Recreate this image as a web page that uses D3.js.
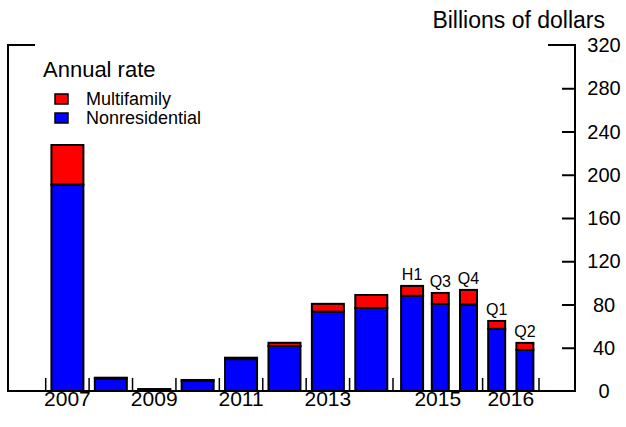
<!DOCTYPE html>
<html>
<head>
<meta charset="utf-8">
<script src="https://cdn.jsdelivr.net/npm/d3@7"></script>
<style>
  html, body { margin: 0; padding: 0; background: #fff; }
  svg { display: block; font-family: "Liberation Sans", Arial, Helvetica, sans-serif; }
</style>
</head>
<body>
<svg id="chart" width="626" height="427"></svg>
<script>
// ---- Data ----
const annualCategories = ["2007", "2008", "2009", "2010", "2011", "2012", "2013", "2014"];
const subCategories = ["2015 H1", "2015 Q3", "2015 Q4", "2016 Q1", "2016 Q2"];
const subLabels = ["H1", "Q3", "Q4", "Q1", "Q2"];
const nonresidential = [191, 11.5, 1.2, 9.5, 29.5, 41.6, 73.4, 76.8, 88, 80.5, 80, 57.5, 38];
const multifamily = [36.5, 0.8, 0.6, 0.7, 1.3, 3.0, 7.2, 12, 9.2, 10.2, 13.5, 7.3, 6.5];
const yTicks = [0, 40, 80, 120, 160, 200, 240, 280, 320];
const yearLabels = ["2007", "2009", "2011", "2013", "2015", "2016"];
const seriesNames = ["Multifamily", "Nonresidential"];
const seriesColors = ["#ff0000", "#0000ff"];

(function () {
// ---- Layout ----
const svg = d3.select("#chart");
const pLeft = 8, pRight = 575, pTop = 45, pBottom = 391;

const y = d3.scaleLinear().domain([0, 320]).range([pBottom, pTop]);
const xAnnual = d3.scaleBand().domain(annualCategories).range([45.7, 393]);
const xSub = d3.scaleBand().domain(subCategories).range([398, 539]);

const categories = annualCategories.concat(subCategories);
const rows = categories.map((c, i) => {
  const isAnnual = i < annualCategories.length;
  const sc = isAnnual ? xAnnual : xSub;
  const center = sc(c) + sc.bandwidth() / 2;
  const w = isAnnual ? 32 : (c === "2015 H1" ? 22 : 17);
  return {
    cat: c, center, w,
    nonres: nonresidential[i],
    multi: multifamily[i],
    label: isAnnual ? null : subLabels[i - annualCategories.length]
  };
});

// ---- Bars ----
const g = svg.append("g");
rows.forEach(r => {
  g.append("rect")
    .attr("x", r.center - r.w / 2).attr("width", r.w)
    .attr("y", y(r.nonres)).attr("height", y(0) - y(r.nonres))
    .attr("fill", seriesColors[1]).attr("stroke", "#000").attr("stroke-width", 2);
  g.append("rect")
    .attr("x", r.center - r.w / 2).attr("width", r.w)
    .attr("y", y(r.nonres + r.multi)).attr("height", y(r.nonres) - y(r.nonres + r.multi))
    .attr("fill", seriesColors[0]).attr("stroke", "#000").attr("stroke-width", 2);
  if (r.label) {
    g.append("text")
      .attr("x", r.center).attr("y", y(r.nonres + r.multi) - 6)
      .attr("text-anchor", "middle").attr("font-size", 16).attr("fill", "#000")
      .text(r.label);
  }
});

// ---- Frame ----
const frame = svg.append("g").attr("stroke", "#000").attr("stroke-width", 2).attr("fill", "none");
frame.append("path").attr("d", `M${pLeft},${pTop}H35`);
frame.append("path").attr("d", `M548,${pTop}H${pRight}`);
frame.append("path").attr("d", `M${pLeft},${pTop - 1}V${pBottom}`);
frame.append("path").attr("d", `M${pRight},${pTop - 1}V${pBottom}`);
frame.append("path").attr("d", `M${pLeft - 1},${pBottom}H${pRight + 1}`);

// ---- Right axis ----
const yAxis = d3.axisRight(y).tickValues(yTicks.filter(v => v > 0 && v < 320))
  .tickSizeInner(-13).tickSizeOuter(0).tickFormat("");
const ya = svg.append("g").attr("transform", `translate(${pRight},0)`).call(yAxis);
ya.select(".domain").remove();
ya.selectAll("line").attr("stroke", "#000").attr("stroke-width", 2);
svg.append("g").selectAll("text").data(yTicks).join("text")
  .attr("x", 604).attr("y", d => y(d)).attr("dy", "0.35em")
  .attr("text-anchor", "middle").attr("font-size", 20).attr("fill", "#000")
  .text(d => d);

// ---- Bottom ticks (category boundaries) ----
const boundaries = annualCategories.map(c => xAnnual(c))
  .concat([xAnnual.range()[1], xSub("2016 Q1"), xSub.range()[1]]);
svg.append("g").selectAll("line").data(boundaries).join("line")
  .attr("x1", d => d).attr("x2", d => d)
  .attr("y1", pBottom).attr("y2", pBottom - 13)
  .attr("stroke", "#000").attr("stroke-width", 1.5);

// Year labels
const yearPos = {
  "2007": xAnnual("2007") + xAnnual.bandwidth() / 2,
  "2009": xAnnual("2009") + xAnnual.bandwidth() / 2,
  "2011": xAnnual("2011") + xAnnual.bandwidth() / 2,
  "2013": xAnnual("2013") + xAnnual.bandwidth() / 2,
  "2015": (xAnnual.range()[1] + xSub("2016 Q1")) / 2,
  "2016": (xSub("2016 Q1") + xSub.range()[1]) / 2
};
svg.append("g").selectAll("text").data(yearLabels).join("text")
  .attr("x", d => yearPos[d]).attr("y", 406)
  .attr("text-anchor", "middle").attr("font-size", 21).attr("fill", "#000")
  .text(d => d);

// ---- Titles ----
svg.append("text").attr("x", 605).attr("y", 28).attr("text-anchor", "end")
  .attr("font-size", 23).attr("fill", "#000").text("Billions of dollars");
svg.append("text").attr("x", 43).attr("y", 77)
  .attr("font-size", 22).attr("fill", "#000").text("Annual rate");

// ---- Legend ----
const leg = svg.append("g");
seriesNames.forEach((name, i) => {
  const yy = 94 + i * 19;
  leg.append("rect").attr("x", 55).attr("y", yy).attr("width", 13).attr("height", 10)
    .attr("fill", seriesColors[i]).attr("stroke", "#000").attr("stroke-width", 1.5);
  leg.append("text").attr("x", 86).attr("y", yy + 11)
    .attr("font-size", 18).attr("fill", "#000").text(name);
});
})();
</script>
</body>
</html>
